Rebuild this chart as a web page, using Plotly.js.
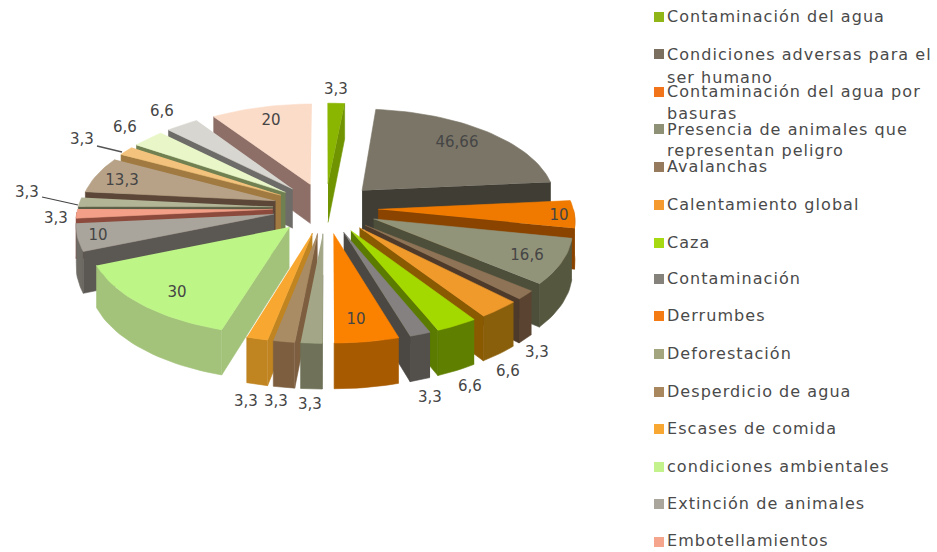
<!DOCTYPE html>
<html><head><meta charset="utf-8">
<script src="https://cdn.plot.ly/plotly-3.0.1.min.js"></script>
<style>html,body{margin:0;padding:0;background:#fff}#c{width:937px;height:552px}
#c .scatterlayer .trace:last-child text{letter-spacing:1.05px}</style>
</head><body><div id="c"></div>
<script>
// ---- data (clockwise from 12 o'clock) ----
const categories = ["Contaminación del agua","Condiciones adversas para el ser humano","Contaminación del agua por basuras","Presencia de animales que representan peligro","Avalanchas","Calentamiento global","Caza","Contaminación","Derrumbes","Deforestación","Desperdicio de agua","Escases de comida","condiciones ambientales","Extinción de animales","Embotellamientos","(fuera de la leyenda 1)","(fuera de la leyenda 2)","(fuera de la leyenda 3)","(fuera de la leyenda 4)","(fuera de la leyenda 5)","(fuera de la leyenda 6)"];
const values = [3.3,46.66,10,16.6,3.3,6.6,6.6,3.3,10,3.3,3.3,3.3,30,10,3.3,3.3,13.3,3.3,6.6,6.6,20];
const valueText = ["3,3","46,66","10","16,6","3,3","6,6","6,6","3,3","10","3,3","3,3","3,3","30","10","3,3","3,3","13,3","3,3","6,6","6,6","20"];
// ---- styles ----
const topColors  = ["#8ab500","#7b7567","#f07a00","#92947a","#8f7356","#f09a2c","#a4d900","#858180","#fb8200","#a3a787","#a98b64","#f8a830","#bdf586","#a9a59c","#f4a088","#b3b597","#b7a288","#f3c27c","#e9f7c8","#d8d6d0","#fbdcc8"];
const edgeColors = ["#6f9400","#3f3d34","#8a4400","#4d4f3a","#4e3a2a","#8a5a00","#5a7a00","#4b4844","#a85a00","#6f7258","#7d5f40","#c08420","#a3c37a","#5b5752","#8c4a3c","#5c5e45","#5b4638","#a07a40","#708050","#6e6c68","#8d6f68"];
const outerColors= ["#6f9400","#3f3d34","#a85800","#55573f","#5a4330","#8a5f0c","#5f7f00","#534f4b","#a85a00","#6f7258","#7d5f40","#c08420","#a3c37a","#6e6a64","#a05a48","#80826a","#7d6a55","#b08a50","#90a070","#8c8a84","#a88c80"];
// ---- 3D projection of the pie ----
const cx=325.5, cy=208, R=195, A=93, persp=0.1, depth=40, pull=0.27;
const total = values.reduce((a,b)=>a+b,0);
function proj(u,v,z){const s=1/(1+persp*v);return [cx+R*u*s, cy-A*v*s+depth*z*s];}
function poly(pts,color){return {type:'scatter',mode:'lines',x:pts.map(p=>p[0]),y:pts.map(p=>p[1]),fill:'toself',fillcolor:color,line:{color:color,width:0.6},hoverinfo:'skip',showlegend:false};}
const slices=[]; let cum=0;
values.forEach((val,i)=>{const t0=cum/total*2*Math.PI; cum+=val; const t1=cum/total*2*Math.PI; slices.push({i,t0,t1,mid:(t0+t1)/2});});
slices.sort((a,b)=>Math.cos(b.mid)-Math.cos(a.mid));
const traces=[];
slices.forEach(sl=>{
  const eu=pull*Math.sin(sl.mid), ev=pull*Math.cos(sl.mid);
  const P=(t,r,z)=>proj(eu+r*Math.sin(t),ev+r*Math.cos(t),z);
  const n=Math.max(3,Math.ceil((sl.t1-sl.t0)/0.035));
  const ang=[];for(let k=0;k<=n;k++)ang.push(sl.t0+(sl.t1-sl.t0)*k/n);
  // outer wall
  const front=ang.filter(t=>Math.cos(t)<0);
  if(front.length>1){traces.push(poly(front.map(t=>P(t,1,0)).concat(front.slice().reverse().map(t=>P(t,1,1))),outerColors[sl.i]));}
  // radial walls
  if(Math.sin(sl.t0)<0) traces.push(poly([P(sl.t0,0,0),P(sl.t0,1,0),P(sl.t0,1,1),P(sl.t0,0,1)],edgeColors[sl.i]));
  if(Math.sin(sl.t1)>0) traces.push(poly([P(sl.t1,0,0),P(sl.t1,1,0),P(sl.t1,1,1),P(sl.t1,0,1)],edgeColors[sl.i]));
  // top face
  traces.push(poly([P(0,0,0)].concat(ang.map(t=>P(t,1,0))),topColors[sl.i]));
});
// ---- value labels ----
const labelX=[336,457,559,527,537,508,470,430,356,310,276,246,177,98,56,27,122,82,125,162,271];
const labelY=[90,143,216,256,353,372,387,398,320,405,402,402,293,236,219,193,181,140,128,112,121];
traces.push({type:'scatter',mode:'text',x:labelX,y:labelY,text:valueText,textposition:'middle center',textfont:{family:'"DejaVu Sans",sans-serif',size:15,color:'#454545'},hoverinfo:'skip',showlegend:false});
// ---- legend ----
const legendRows=[17,54,92,129,167,205,243,279,316,354,392,429,467,504,542];
const legendColors=["#8fb516","#7b7060","#f2741a","#8f9177","#957a5e","#f49a2e","#a6d911","#85827c","#f47a14","#a3a57f","#a8875f","#f8a732","#c3f28c","#aaa69c","#f4a58c"];
const legendLines=[["Contaminación del agua",18],["Condiciones adversas para el",56],["ser humano",79],["Contaminación del agua por",93],["basuras",115],["Presencia de animales que",131],["representan peligro",152],["Avalanchas",168],["Calentamiento global",206],["Caza",244],["Contaminación",280],["Derrumbes",317],["Deforestación",355],["Desperdicio de agua",393],["Escases de comida",430],["condiciones ambientales",468],["Extinción de animales",505],["Embotellamientos",542]];
traces.push({type:'scatter',mode:'markers',x:legendRows.map(()=>659),y:legendRows,marker:{symbol:'square',size:10,color:legendColors,line:{width:0}},hoverinfo:'skip',showlegend:false});
traces.push({type:'scatter',mode:'text',x:legendLines.map(()=>667),y:legendLines.map(l=>l[1]),text:legendLines.map(l=>l[0]),textposition:'middle right',textfont:{family:'"DejaVu Sans",sans-serif',size:16,color:'#4a4a4a'},hoverinfo:'skip',showlegend:false});
const layout={width:937,height:552,margin:{l:0,r:0,t:0,b:0},paper_bgcolor:'#fff',plot_bgcolor:'#fff',showlegend:false,
 xaxis:{range:[0,937],visible:false,fixedrange:true},yaxis:{range:[552,0],visible:false,fixedrange:true},
 shapes:[
  {type:'line',x0:42,y0:197,x1:78,y1:205,line:{color:'#444',width:1.2}},
  {type:'line',x0:97,y0:146,x1:122,y1:152,line:{color:'#555',width:1.5}}
 ]};
Plotly.newPlot('c',traces,layout,{staticPlot:true,displayModeBar:false});
</script></body></html>
